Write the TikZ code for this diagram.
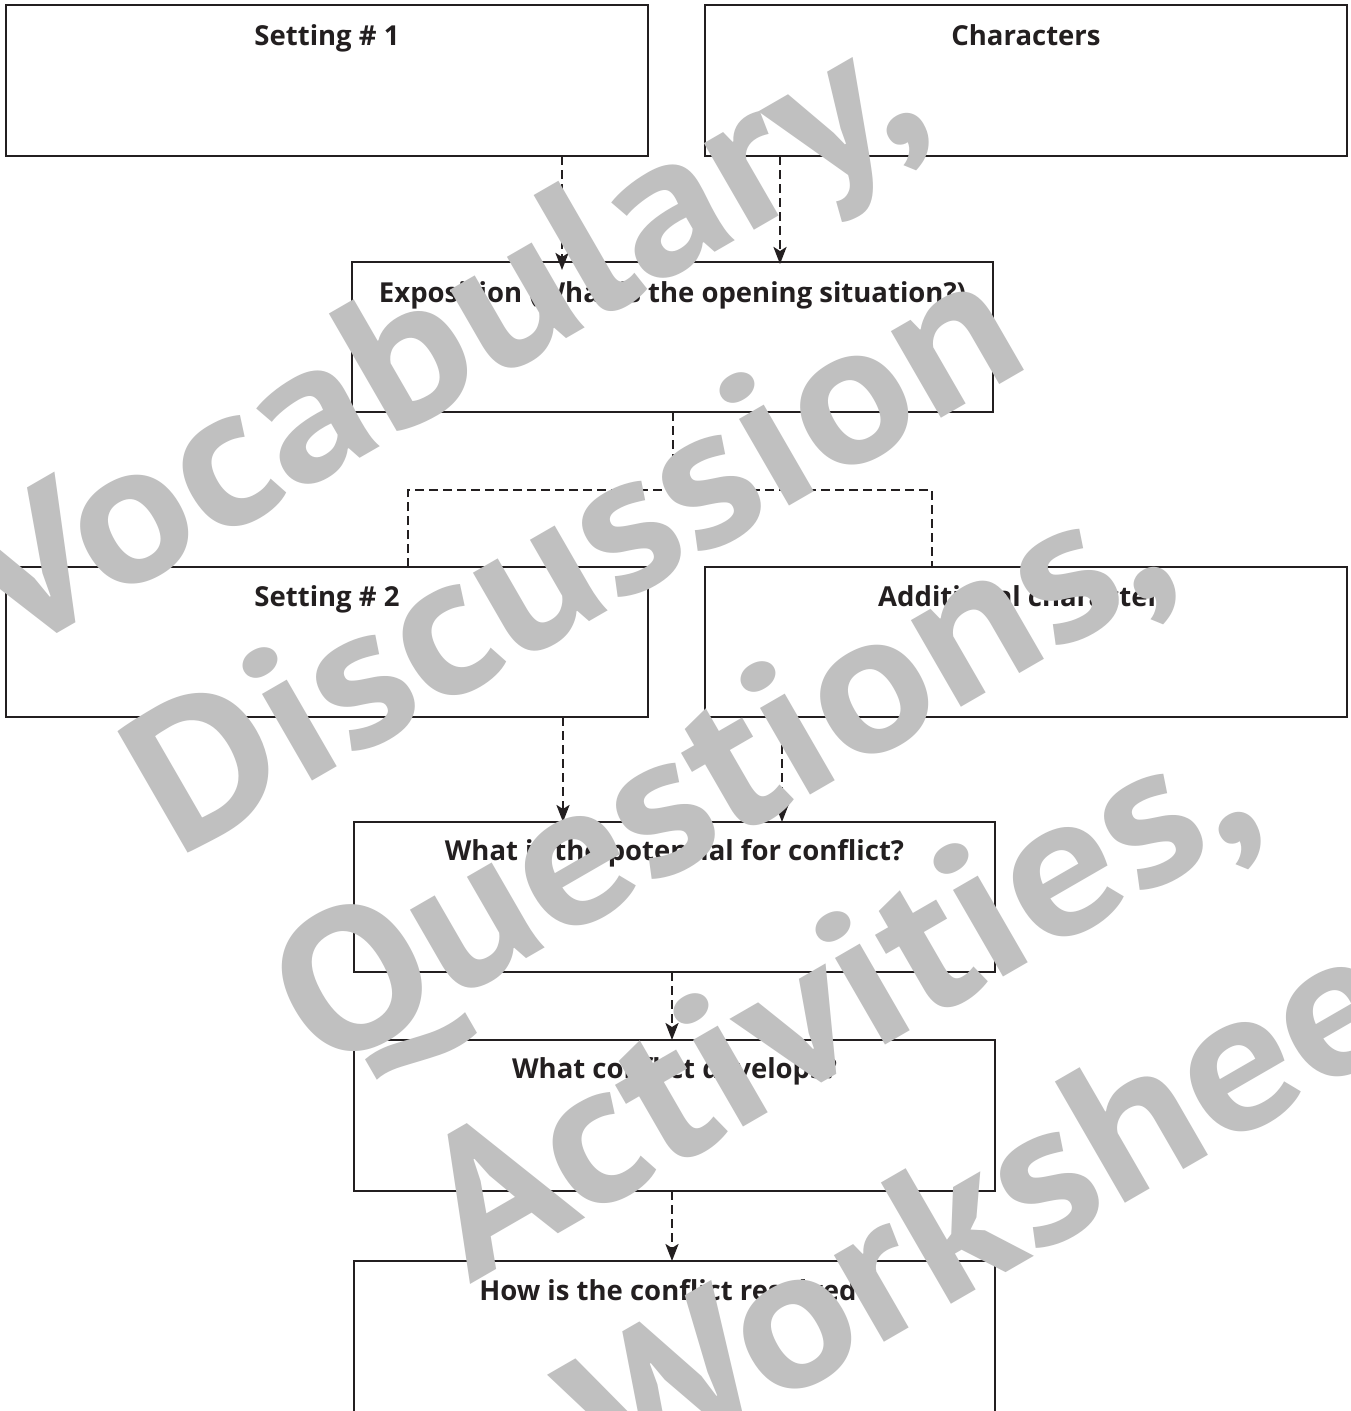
\documentclass[tikz,border=0pt]{standalone}
\usepackage{fontspec}
\setmainfont{Open Sans}
\newfontfamily\wmfont{PT Sans}
\usetikzlibrary{arrows.meta}
\definecolor{linec}{RGB}{35,31,32}
\definecolor{wmc}{RGB}{192,192,192}
\tikzset{
  boxnode/.style={draw=linec, line width=2.4pt, anchor=north west, inner sep=0pt, outer sep=0pt, minimum width=641pt, minimum height=151pt},
  lbl/.style={anchor=base, inner sep=0pt, font=\fontsize{27.5}{30}\selectfont\bfseries, text=linec},
  dashline/.style={draw=linec, line width=2.5pt, dash pattern=on 9pt off 5pt},
  arr/.style={dashline, -{Stealth[length=17pt, width=13pt, inset=4pt]}},
  wm/.style={anchor=base west, inner sep=0pt, rotate=30, xscale=1.1, text=wmc, font=\wmfont\fontsize{200}{210}\selectfont\bfseries}
}
\begin{document}
\begin{tikzpicture}[x=1pt,y=-1pt]
\useasboundingbox[fill=white] (0,0) rectangle (1351,1411);
% boxes
\node[boxnode, minimum width=642pt] (s1) at (6,5) {};
\node[boxnode, minimum width=642pt] (ch) at (705,5) {};
\node[boxnode, minimum height=150pt] (expo) at (352,262) {};
\node[boxnode, minimum width=642pt, minimum height=150pt] (s2) at (6,567) {};
\node[boxnode, minimum width=642pt, minimum height=150pt] (ac) at (705,567) {};
\node[boxnode, minimum height=150pt] (pot) at (354,822) {};
\node[boxnode] (dev) at (354,1040) {};
\node[boxnode, minimum height=170pt] (res) at (354,1261) {};
% labels
\node[lbl] (t1) at ([yshift=-40pt]s1.north) {Setting \# 1};
\node[lbl] (t2) at ([yshift=-40pt]ch.north) {Characters};
\node[lbl] (t3) at ([yshift=-40pt]expo.north) {Exposition (What is the opening situation?)};
\node[lbl] (t4) at ([yshift=-39pt]s2.north) {Setting \# 2};
\node[lbl] (t5) at ([yshift=-39pt]ac.north) {Additional characters};
\node[lbl] (t6) at ([yshift=-38pt]pot.north) {What is the potential for conflict?};
\node[lbl] (t7) at ([yshift=-38pt]dev.north) {What conflict develops?};
\node[lbl] (t8) at ([yshift=-39pt]res.north) {How is the conflict resolved?};
% connectors
\draw[arr] (s1.south -| 562,0) -- ([yshift=-8pt]expo.north -| 562,0);
\draw[arr] (ch.south -| 780,0) -- ([yshift=-2pt]expo.north -| 780,0);
\coordinate (jc) at (673,490);
\coordinate (jl) at (408,490);
\coordinate (jr) at (932,490);
\draw[dashline] (expo.south -| jc) -- (jc);
\draw[dashline] (s2.north -| jl) -- (jl) -- (jr) -- (ac.north -| jr);
\draw[arr] (s2.south -| 563,0) -- (pot.north -| 563,0);
\draw[arr] (ac.south -| 782,0) -- (pot.north -| 782,0);
\draw[arr] (pot.south -| 672,0) -- (dev.north -| 672,0);
\draw[arr] (dev.south -| 672,0) -- (res.north -| 672,0);
% watermark
\node[wm] (w1) at (8,661) {Vocabulary,};
\node[wm] (w2) at (176,860) {Discussion};
\node[wm] (w3) at (323,1076) {Questions,};
\node[wm] (w4) at (470,1285) {Activities,};
\node[wm] (w5) at (617,1497) {Worksheet};
\end{tikzpicture}
\end{document}
